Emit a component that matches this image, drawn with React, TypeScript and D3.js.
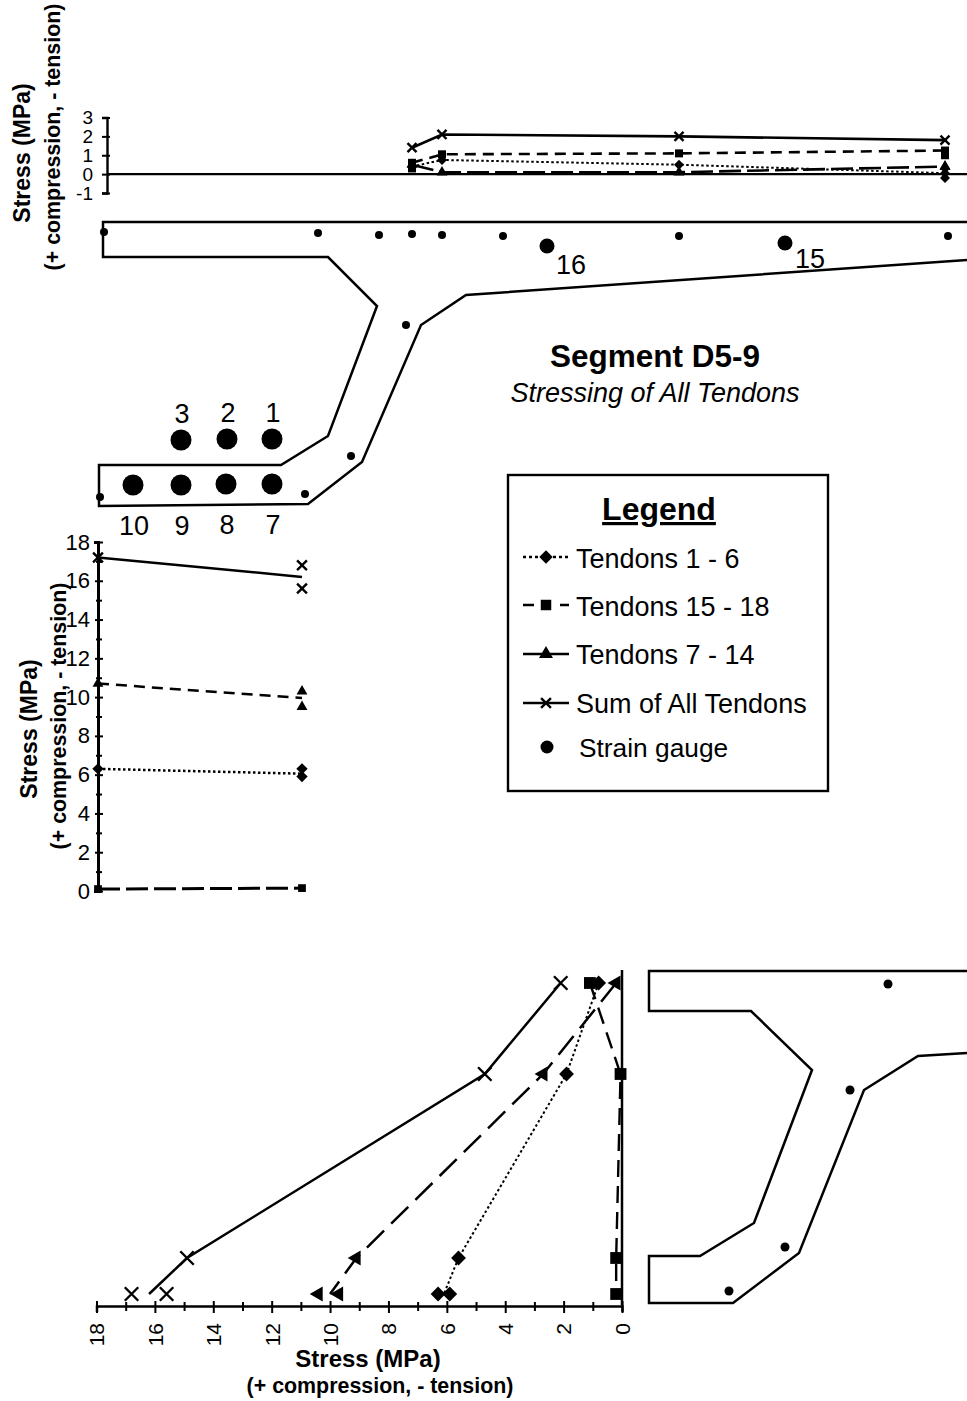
import { useEffect, useRef } from "react";
import * as d3 from "d3";

type Pt = [number, number];

// top flange gauges: distance along the deck, stress in MPa
const topStations = [0, 30, 267, 533];
const topSum = [1.4, 2.1, 2.0, 1.8];
const topT1to6 = [0.4, 0.75, 0.5, 0.05];
const topT15to18 = [0.6, 1.05, 1.1, 1.25];
const topT7to14 = [0.5, 0.1, 0.1, 0.4];
const topExtraT1to6 = [0.3, -0.2];
const topExtraT15to18 = [1.0];
const topExtraT7to14 = [0.4];
const topStartT15to18 = [0.3];
const topTicks = [-1, 0, 1, 2, 3];

// bottom flange gauges: two ends, second end has two gauges
const sideStations = [0, 1];
const sideSum = [17.2, 16.2];
const sideSumEnd = [16.8, 15.6];
const sideT7to14 = [10.7, 9.95];
const sideT7to14End = [10.3, 9.5];
const sideT1to6 = [6.3, 6.05];
const sideT1to6End = [6.3, 5.9];
const sideT15to18 = [0.1, 0.15];
const sideTicks = d3.range(0, 19);

// web profile: depth below top of the section, stress in MPa
const webDepths = [0, 91, 275, 311];
const webSum = [2.1, 4.7, 14.9, 16.2];
const webSumEnd = [16.8, 15.6];
const webT7to14 = [0.2, 2.7, 9.1, 10.0];
const webT7to14End = [10.4, 9.7];
const webT1to6 = [0.8, 1.9, 5.6, 6.1];
const webT1to6End = [6.3, 5.9];
const webT15to18 = [1.1, 0.05, 0.2, 0.2];
const webTicks = d3.range(0, 19);

// cross section outlines and gauges, in drawing units
const mainOutline: Pt[] = [[967, 222], [103, 222], [103, 257], [328, 257], [377, 306], [328, 436], [281, 465], [99, 465], [99, 506], [308, 504], [362, 462], [421, 325], [466, 295], [967, 260]];
const mainGauges: Pt[] = [[104, 232], [318, 233], [379, 235], [412, 234], [442, 235], [503, 236], [679, 236], [948, 236], [406, 325], [351, 456], [305, 494], [100, 497]];
const bigGauges: Pt[] = [[547, 246], [785, 243]];
const bigGaugeLabels = ["16", "15"];
const tendons: Pt[] = [[272, 439], [227, 439], [181, 440], [272, 484], [226, 484], [181, 485], [133, 485]];
const tendonLabels = ["1", "2", "3", "7", "8", "9", "10"];
const sideOutline: Pt[] = [[967, 971], [649, 971], [649, 1011], [751, 1011], [812, 1070], [754, 1223], [700, 1256], [649, 1256], [649, 1303], [733, 1303], [799, 1253], [864, 1090], [918, 1056], [967, 1053]];
const sideGauges: Pt[] = [[888, 984], [850, 1090], [785, 1247], [729, 1291]];

const legendLabels = ["Tendons 1 - 6", "Tendons 15 - 18", "Tendons 7 - 14", "Sum of All Tendons", "Strain gauge"];

const FONT = "'Liberation Sans', Arial, sans-serif";
const DOT = "2.5 2.5";
const DASH = "11 7";
const LONG = "22 6";

const square = d3.symbol().type(d3.symbolSquare);
const triangle = d3.symbol().type(d3.symbolTriangle2);
const times = d3.symbol().type(d3.symbolTimes);

function App() {
  const ref = useRef<SVGSVGElement>(null);

  useEffect(() => {
    drawChart();
  }, []);

  function drawChart() {
    const svg = d3.select(ref.current);
    svg.selectAll("*").remove();

    const marks = (g: any, pts: Pt[], kind: string, size: number, rot = 0) => {
      const gen = kind === "triangle" ? triangle : kind === "times" ? times : square;
      const a = kind === "diamond" ? rot + 45 : rot;
      g.selectAll(null)
        .data(pts)
        .join("path")
        .attr("d", gen.size(size)())
        .attr("transform", (d: Pt) => `translate(${d[0]},${d[1]}) rotate(${a})`)
        .attr("fill", kind === "times" ? "none" : "#000")
        .attr("stroke", kind === "times" ? "#000" : "none")
        .attr("stroke-width", 2.4);
    };

    const poly = (pts: Pt[], width: number, dash?: string) =>
      svg.append("path")
        .attr("d", d3.line()(pts))
        .attr("fill", "none")
        .attr("stroke", "#000")
        .attr("stroke-width", width)
        .attr("stroke-dasharray", dash ?? null);

    const label = (x: number, y: number, text: string, size: number, opts: any = {}) =>
      svg.append("text")
        .attr("transform", `translate(${x},${y}) rotate(${opts.rot ?? 0})`)
        .attr("text-anchor", opts.anchor ?? "middle")
        .attr("font-family", FONT)
        .attr("font-size", size)
        .attr("font-weight", opts.bold ? "bold" : null)
        .attr("font-style", opts.italic ? "italic" : null)
        .attr("text-decoration", opts.underline ? "underline" : null)
        .attr("fill", "#000")
        .text(text);

    // ---- top chart
    const topX = d3.scaleLinear().domain([0, 533]).range([412, 945]);
    const topY = d3.scaleLinear().domain([-1, 3]).range([193, 117.5]);
    poly([[107, topY(0)], [967, topY(0)]], 2.4);
    const topG = svg.append("g");
    const topSeries: [number[], string, number, string | undefined, number][] = [
      [topT7to14, "triangle", 85, LONG, 2.6],
      [topT1to6, "diamond", 50, DOT, 2],
      [topT15to18, "square", 64, DASH, 2.6],
      [topSum, "times", 55, undefined, 2.6],
    ];
    topSeries.forEach(([vals, kind, size, dash, w]) => {
      const pts = vals.map((v, i) => [topX(topStations[i]), topY(v)] as Pt);
      poly(pts, w, dash);
      marks(topG, pts, kind, size);
    });
    marks(topG, topExtraT1to6.map((v) => [topX(533), topY(v)] as Pt), "diamond", 50);
    marks(topG, topExtraT7to14.map((v) => [topX(533), topY(v)] as Pt), "triangle", 85);
    marks(topG, topExtraT15to18.map((v) => [topX(533), topY(v)] as Pt), "square", 64);
    marks(topG, topStartT15to18.map((v) => [topX(0), topY(v)] as Pt), "square", 64);
    svg.append("g")
      .attr("transform", "translate(107,0)")
      .call(d3.axisLeft(topY).tickValues(topTicks).tickFormat((d: any) => String(d)).tickSize(5).tickPadding(9) as any)
      .call((g: any) => {
        g.select(".domain").attr("stroke-width", 2.4);
        g.selectAll(".tick line").attr("stroke-width", 2).attr("x1", -5).attr("x2", 3);
        g.selectAll(".tick text").attr("font-family", FONT).attr("font-size", 19).attr("fill", "#000");
      });
    label(30, 153, "Stress (MPa)", 23, { rot: -90, bold: true });
    label(60, 137, "(+ compression, - tension)", 21.4, { rot: -90, bold: true });

    // ---- cross section
    poly(mainOutline, 2.5);
    const secG = svg.append("g");
    secG.selectAll(null).data(mainGauges).join("circle")
      .attr("cx", (d) => d[0]).attr("cy", (d) => d[1]).attr("r", 4);
    secG.selectAll(null).data(bigGauges).join("circle")
      .attr("cx", (d) => d[0]).attr("cy", (d) => d[1]).attr("r", 7.5);
    secG.selectAll(null).data(tendons).join("circle")
      .attr("cx", (d) => d[0]).attr("cy", (d) => d[1]).attr("r", 10.5);
    bigGauges.forEach((d, i) => label(d[0] + (i ? 25 : 24), d[1] + (i ? 25 : 28), bigGaugeLabels[i], 27));
    tendons.forEach((d, i) => label(d[0] + 1, i < 3 ? d[1] - 17 : d[1] + 50, tendonLabels[i], 27));

    label(655, 367, "Segment D5-9", 31.5, { bold: true });
    label(655, 402, "Stressing of All Tendons", 27, { italic: true });

    // ---- legend
    svg.append("rect").attr("x", 508).attr("y", 475).attr("width", 320).attr("height", 316)
      .attr("fill", "none").attr("stroke", "#000").attr("stroke-width", 2.4);
    label(659, 520, "Legend", 32, { bold: true, underline: true });
    const rowY = [557, 605, 654, 703, 747];
    const textY = [568, 616, 664, 713, 757];
    const legG = svg.append("g");
    const legStyle: [string, number, string | undefined][] = [["diamond", 90, "3 3"], ["square", 110, "11 26"], ["triangle", 140, undefined], ["times", 65, undefined]];
    legStyle.forEach(([kind, size, dash], i) => {
      poly([[523, rowY[i]], [569, rowY[i]]], 2.6, dash);
      marks(legG, [[546, rowY[i]]], kind, size);
    });
    legG.append("circle").attr("cx", 547).attr("cy", rowY[4]).attr("r", 6.5);
    legendLabels.forEach((t, i) => label(i === 4 ? 579 : 576, textY[i], t, i === 4 ? 26.3 : 27, { anchor: "start" }));

    // ---- left chart
    const leftX = d3.scaleLinear().domain([0, 1]).range([98, 302]);
    const leftY = d3.scaleLinear().domain([0, 18]).range([891, 542]);
    const leftG = svg.append("g");
    const leftSeries: [number[], number[], string, number, string | undefined, number][] = [
      [sideSum, sideSumEnd, "times", 65, undefined, 2.5],
      [sideT7to14, sideT7to14End, "triangle", 85, DASH, 2.5],
      [sideT1to6, sideT1to6End, "diamond", 64, DOT, 2.5],
      [sideT15to18, [0.15], "square", 60, LONG, 3],
    ];
    leftSeries.forEach(([vals, ends, kind, size, dash, w]) => {
      poly(vals.map((v, i) => [leftX(sideStations[i]), leftY(v)] as Pt), w, dash);
      marks(leftG, [[leftX(0), leftY(vals[0])]], kind, size);
      marks(leftG, ends.map((v) => [leftX(1), leftY(v)] as Pt), kind, size);
    });
    svg.append("g")
      .attr("transform", "translate(98,0)")
      .call(d3.axisLeft(leftY).tickValues(sideTicks).tickFormat((d: any) => (d % 2 === 0 ? String(d) : "")).tickSize(4).tickPadding(4) as any)
      .call((g: any) => {
        g.select(".domain").attr("stroke-width", 3);
        g.selectAll(".tick line").attr("stroke-width", 2)
          .attr("x1", (d: number) => (d % 2 === 0 ? -3 : -2)).attr("x2", (d: number) => (d % 2 === 0 ? 5 : 4));
        g.selectAll(".tick text").attr("font-family", FONT).attr("font-size", 22).attr("fill", "#000");
      });
    label(37, 729, "Stress (MPa)", 23, { rot: -90, bold: true });
    label(66, 716, "(+ compression, - tension)", 21.4, { rot: -90, bold: true });

    // ---- bottom chart
    const webX = d3.scaleLinear().domain([0, 18]).range([622, 96.5]);
    const webY = d3.scaleLinear().domain([0, 311]).range([983, 1294]);
    const webG = svg.append("g");
    const webSeries: [number[], number[], string, number, string | undefined, number, number][] = [
      [webSum, webSumEnd, "times", 120, undefined, 2.5, 0],
      [webT7to14, webT7to14End, "triangle", 160, "24 10", 2.5, -90],
      [webT1to6, webT1to6End, "diamond", 110, DOT, 2, 0],
      [webT15to18, [0.2], "square", 140, "17 9", 2.4, 0],
    ];
    webSeries.forEach(([vals, ends, kind, size, dash, w, rot]) => {
      const pts = vals.map((v, i) => [webX(v), webY(webDepths[i])] as Pt);
      poly(pts, w, dash);
      marks(webG, pts.slice(0, 3), kind, size, rot);
      marks(webG, ends.map((v) => [webX(v), webY(311)] as Pt), kind, size, rot);
    });
    poly([[622, 970], [622, 1305]], 2.5);
    svg.append("g")
      .attr("transform", "translate(0,1306)")
      .call(d3.axisBottom(webX).tickValues(webTicks).tickFormat((d: any) => (d % 2 === 0 ? String(d) : "")).tickSize(6) as any)
      .call((g: any) => {
        g.select(".domain").attr("stroke-width", 2.5);
        g.selectAll(".tick line").attr("stroke-width", 2)
          .attr("y1", (d: number) => (d % 2 === 0 ? -5 : -4)).attr("y2", (d: number) => (d % 2 === 0 ? 7 : 5));
        g.selectAll(".tick text")
          .attr("font-family", FONT).attr("font-size", 21).attr("fill", "#000")
          .attr("transform", "translate(0,17) rotate(-90)")
          .attr("y", 0).attr("dy", "0.35em").attr("text-anchor", "end");
      });
    label(368, 1367, "Stress (MPa)", 24, { bold: true });
    label(380, 1393, "(+ compression, - tension)", 21.4, { bold: true });

    // ---- side section
    poly(sideOutline, 2.5);
    svg.append("g").selectAll(null).data(sideGauges).join("circle")
      .attr("cx", (d) => d[0]).attr("cy", (d) => d[1]).attr("r", 4.5);
  }

  return <svg ref={ref} width={967} height={1401} style={{ position: "absolute", left: 0, top: 0, background: "#fff" }} />;
}

export default App;
